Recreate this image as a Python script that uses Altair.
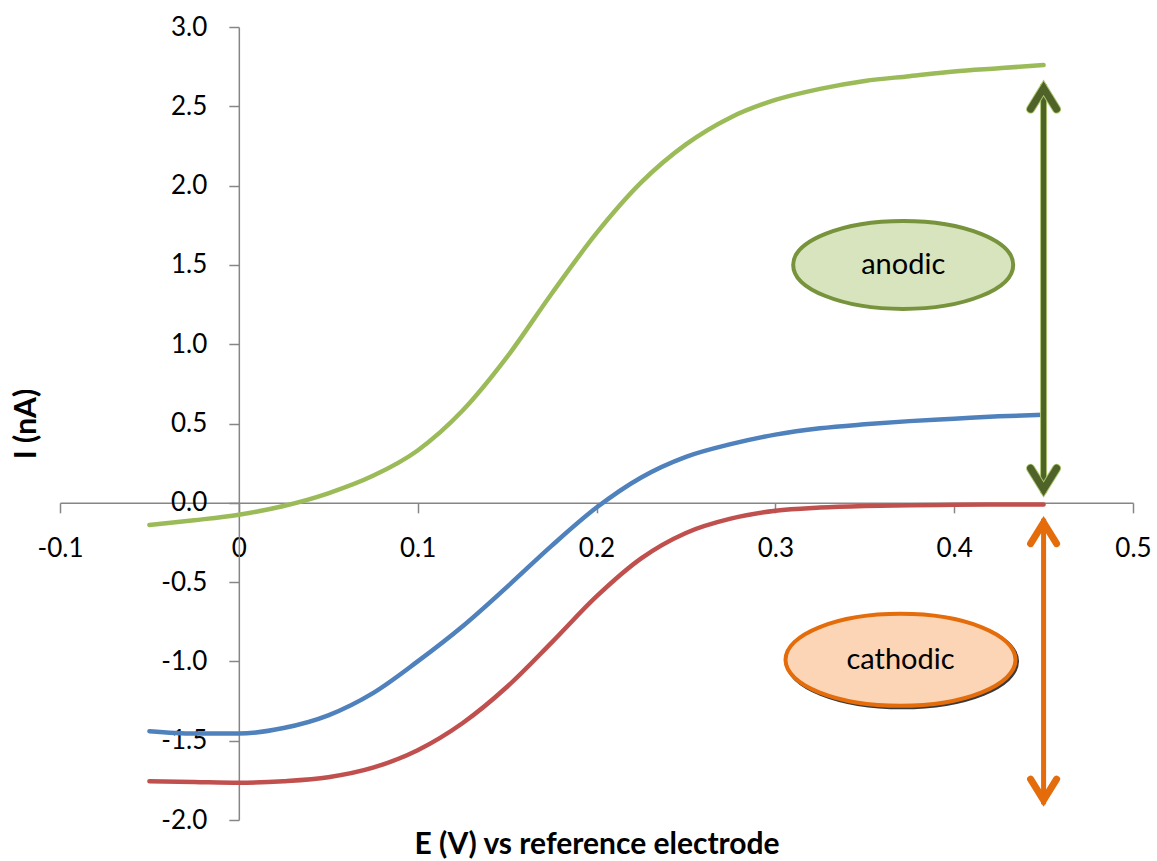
import altair as alt
import pandas as pd

# ---------------- data ----------------
E = [-0.05, -0.025, 0.0, 0.025, 0.05, 0.075, 0.1, 0.125, 0.15, 0.175, 0.2,
     0.225, 0.25, 0.275, 0.3, 0.325, 0.35, 0.375, 0.4, 0.425, 0.45]
I_green = [-0.14, -0.11, -0.075, -0.02, 0.06, 0.17, 0.33, 0.58, 0.92, 1.32, 1.70,
           2.02, 2.26, 2.43, 2.54, 2.61, 2.66, 2.69, 2.72, 2.74, 2.76]
I_blue = [-1.44, -1.455, -1.455, -1.42, -1.34, -1.20, -1.00, -0.78, -0.53, -0.27, -0.03,
          0.16, 0.29, 0.37, 0.43, 0.47, 0.495, 0.515, 0.53, 0.545, 0.555]
I_red = [-1.755, -1.76, -1.765, -1.755, -1.73, -1.67, -1.56, -1.39, -1.16, -0.88, -0.59,
         -0.35, -0.19, -0.10, -0.05, -0.03, -0.02, -0.015, -0.013, -0.011, -0.01]

series_names = ["anodic+cathodic", "net", "cathodic only"]
series_colors = ["#9BBB59", "#4F81BD", "#C0504D"]

x_ticks = [-0.1, 0.0, 0.1, 0.2, 0.3, 0.4, 0.5]
y_ticks = [-2.0, -1.5, -1.0, -0.5, 0.0, 0.5, 1.0, 1.5, 2.0, 2.5, 3.0]
x_domain = [-0.1, 0.5]
y_domain = [-2.0, 3.0]

arrow_E = [0.45, 0.45]
arrow_top = [2.64, -0.10]
arrow_bottom = [0.06, -1.90]
arrow_names = ["anodic", "cathodic"]

label_E = [0.3715, 0.370]
label_I = [1.50, -0.99]
label_text = ["anodic", "cathodic"]

# ---------------- tables ----------------
rows = []
for name, vals in zip(series_names, [I_green, I_blue, I_red]):
    for e, v in zip(E, vals):
        rows.append({"E": e, "I": v, "series": name})
lines_df = pd.DataFrame(rows)
arrows_df = pd.DataFrame({"E": arrow_E, "top": arrow_top, "bottom": arrow_bottom, "name": arrow_names})
labels_df = pd.DataFrame({"E": label_E, "I": label_I, "text": label_text})

W, H = 1073, 793
x_axis_shift = -W * (0 - x_domain[0]) / (x_domain[1] - x_domain[0])
y_axis_shift = -H * (0 - y_domain[0]) / (y_domain[1] - y_domain[0])

FONT = "Lato"
AXIS_GRAY = "#868686"

xs = alt.Scale(domain=x_domain, nice=False, zero=False)
ys = alt.Scale(domain=y_domain, nice=False, zero=False)

x_axis = alt.Axis(
    values=x_ticks, offset=y_axis_shift, grid=False,
    domainColor=AXIS_GRAY, domainWidth=1.5, tickColor=AXIS_GRAY, tickWidth=1.5, tickSize=10,
    labelFont=FONT, labelFontSize=26, labelColor="black", labelPadding=23,
    labelFlush=False, labelOverlap=False,
    labelExpr="datum.value == 0 ? '0' : replace(format(datum.value, '.1f'), '\u2212', '-')",
    title="E (V) vs reference electrode", titleFont=FONT, titleFontSize=30,
    titleFontWeight="bold", titleColor="black", titleY=351, titleBaseline="alphabetic",
)
y_axis = alt.Axis(
    values=y_ticks, offset=x_axis_shift, grid=False,
    domainColor=AXIS_GRAY, domainWidth=1.5, tickColor=AXIS_GRAY, tickWidth=1.5, tickSize=10,
    labelFont=FONT, labelFontSize=26, labelColor="black", labelPadding=22,
    labelFlush=False, labelOverlap=False,
    labelExpr="replace(format(datum.value, '.1f'), '\u2212', '-')",
    title="I (nA)", titleFont=FONT, titleFontSize=30, titleFontWeight="bold",
    titleColor="black", titleX=-203, titleBaseline="alphabetic", titleAngle=270,
)

lines = alt.Chart(lines_df).mark_line(strokeWidth=4.5, strokeCap="round", interpolate="monotone").encode(
    x=alt.X("E:Q", scale=xs, axis=x_axis),
    y=alt.Y("I:Q", scale=ys, axis=y_axis),
    color=alt.Color("series:N", scale=alt.Scale(domain=series_names, range=series_colors), legend=None),
    detail="series:N",
)

# arrow head shapes (pixel units, size=4 -> scale 1)
UP_HEAD = "M -13 25 L 0 4 L 13 25"
DOWN_HEAD = "M -13 -25 L 0 -4 L 13 -25"


def xenc():
    return alt.X("E:Q", scale=xs)


def arrow_layers(name, color, outline=None, shaft_w=5, head_w=8):
    base = alt.Chart(arrows_df).transform_filter(alt.datum.name == name)
    layers = []
    if outline:
        layers.append(base.mark_rule(color=outline, strokeWidth=shaft_w + 2).encode(
            x=xenc(), y=alt.Y("top:Q", scale=ys), y2="bottom:Q"))
    layers.append(base.mark_rule(color=color, strokeWidth=shaft_w).encode(
        x=xenc(), y=alt.Y("top:Q", scale=ys), y2="bottom:Q"))
    for field, shape in [("top", UP_HEAD), ("bottom", DOWN_HEAD)]:
        if outline:
            layers.append(base.mark_point(shape=shape, size=4, filled=False, stroke=outline,
                                          strokeWidth=head_w + 2, strokeCap="round", strokeJoin="miter",
                                          opacity=1).encode(
                x=xenc(), y=alt.Y(f"{field}:Q", scale=ys)))
        layers.append(base.mark_point(shape=shape, size=4, filled=False, stroke=color,
                                      strokeWidth=head_w, strokeCap="round", strokeJoin="miter",
                                      opacity=1).encode(
            x=xenc(), y=alt.Y(f"{field}:Q", scale=ys)))
    return layers


def ellipse_path(rx, ry):
    k = 0.5523
    return (f"M {rx} 0 C {rx} {k*ry:.2f} {k*rx:.2f} {ry} 0 {ry} "
            f"C {-k*rx:.2f} {ry} {-rx} {k*ry:.2f} {-rx} 0 "
            f"C {-rx} {-k*ry:.2f} {-k*rx:.2f} {-ry} 0 {-ry} "
            f"C {k*rx:.2f} {-ry} {rx} {-k*ry:.2f} {rx} 0 Z")


def ellipse_layer(text, rx, ry, fill, stroke, shadow=False):
    base = alt.Chart(labels_df).transform_filter(alt.datum.text == text)
    enc = dict(x=xenc(), y=alt.Y("I:Q", scale=ys))
    layers = []
    if shadow:
        layers.append(base.mark_point(shape=ellipse_path(rx, ry), size=4, filled=True, fill="#3a3a3a",
                                      stroke="#3a3a3a", strokeWidth=4, opacity=1,
                                      xOffset=1.5, yOffset=1.5).encode(**enc))
    layers.append(base.mark_point(shape=ellipse_path(rx, ry), size=4, filled=True, fill=fill,
                                  stroke=stroke, strokeWidth=4, opacity=1).encode(**enc))
    layers.append(base.mark_text(font=FONT, fontSize=29, color="black", baseline="middle",
                                 align="center").encode(text="text:N", **enc))
    return layers


layers = [lines]
layers += arrow_layers("anodic", "#4F6228", outline="#A9C46E", shaft_w=5, head_w=7)
layers += arrow_layers("cathodic", "#E46C0A", shaft_w=5, head_w=7)
layers += ellipse_layer("anodic", 110, 44, "#D7E4BD", "#77933C")
layers += ellipse_layer("cathodic", 115, 46, "#FBD5B5", "#E46C0A", shadow=True)

chart = alt.layer(*layers).properties(
    width=W, height=H,
    padding={"left": 60, "top": 27, "right": 24, "bottom": 41},
    autosize=alt.AutoSizeParams(type="none"),
    background="white",
).configure_view(stroke=None)

chart.save("out.html", embed_options={"renderer": "svg", "actions": False})
